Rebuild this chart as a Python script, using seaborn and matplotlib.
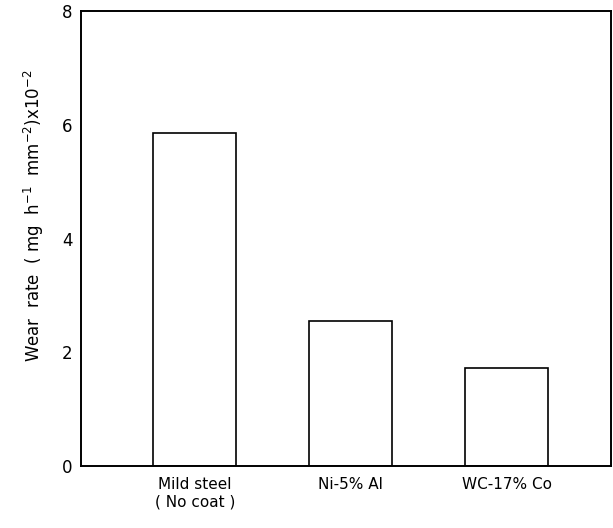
import pandas as pd
import matplotlib
matplotlib.use("Agg")
import matplotlib.pyplot as plt
import seaborn as sns

# Values
materials = ["Mild steel\n( No coat )", "Ni-5% Al", "WC-17% Co"]
wear_rate = [5.85, 2.55, 1.72]
y_ticks = [0, 2, 4, 6, 8]

df = pd.DataFrame({"material": materials, "wear": wear_rate})

sns.set_style("white")
plt.rcParams["font.family"] = ["DejaVu Sans"]
plt.rcParams["text.color"] = "black"
plt.rcParams["axes.labelcolor"] = "black"
plt.rcParams["xtick.color"] = "black"
plt.rcParams["ytick.color"] = "black"

fig = plt.figure(figsize=(6.13, 5.28), dpi=100)
ax = fig.add_axes([0.132, 0.117, 0.865, 0.862])

sns.barplot(data=df, x="material", y="wear", color="white", edgecolor="black",
            linewidth=1.2, width=0.53, ax=ax)

ax.set_xlim(-0.73, 2.67)
ax.set_ylim(0, 8)
ax.set_yticks(y_ticks)
ax.tick_params(axis="y", direction="in", length=14, width=1.2, labelsize=12, pad=6)
ax.tick_params(axis="x", length=0, labelsize=11, pad=8)
ax.set_xlabel("")
ax.set_ylabel(r"Wear  rate  ( mg  h$^{-1}$  mm$^{-2}$)x10$^{-2}$", fontsize=12)
ax.yaxis.set_label_coords(-0.066, 0.55)

for side in ["left", "bottom", "top", "right"]:
    ax.spines[side].set_visible(True)
    ax.spines[side].set_color("black")
    ax.spines[side].set_linewidth(1.4)

fig.savefig("out.png", dpi=100)
